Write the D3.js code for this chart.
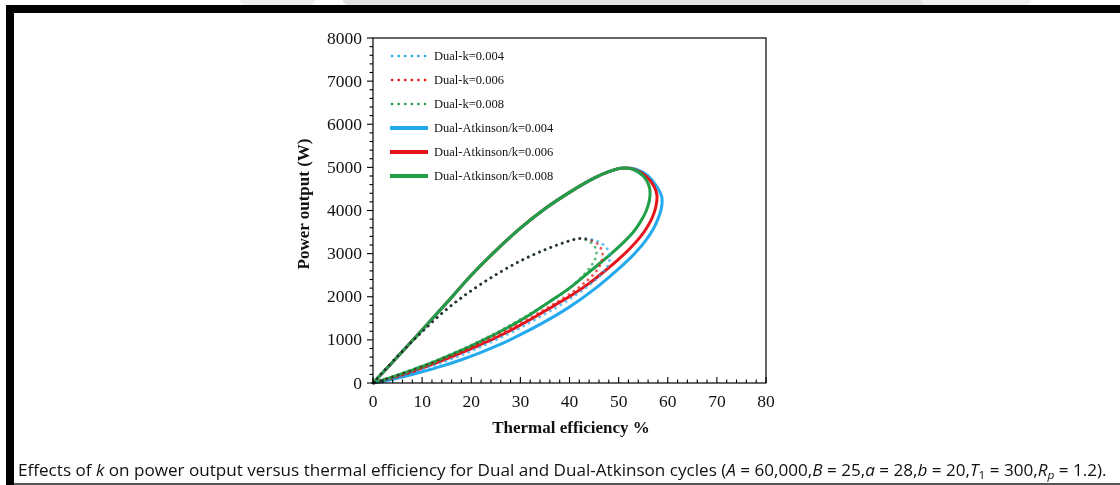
<!DOCTYPE html>
<html>
<head>
<meta charset="utf-8">
<script src="https://cdn.jsdelivr.net/npm/d3@7"></script>
<style>
  html, body { margin: 0; padding: 0; background: #fff; overflow: hidden; }
  svg { display: block; }
</style>
</head>
<body>
<svg id="chart" width="1120" height="485"></svg>
<script>
// ---- Dual cycle (dotted): efficiency (%) and power (W) along each loop ----
const effDual004 = [0, 5, 10, 15, 20, 25, 30, 35, 39, 42, 44.5, 46.5, 47.8, 48.2, 47.9, 47, 45.6, 43.5, 40.5, 37, 33, 29, 25, 21, 17, 13, 9, 5, 2, 0];
const powDual004 = [0, 620, 1190, 1710, 2140, 2510, 2830, 3090, 3260, 3350, 3330, 3240, 3090, 2920, 2750, 2590, 2420, 2220, 1980, 1730, 1470, 1220, 1000, 790, 600, 430, 280, 140, 50, 0];

const effDual006 = [0, 5, 10, 15, 20, 25, 30, 35, 39, 42, 44, 45.8, 46.6, 46.7, 46.2, 45.2, 43.7, 41.5, 38.5, 35, 31, 27, 23, 19, 15, 11, 7, 3.5, 0];
const powDual006 = [0, 620, 1190, 1710, 2140, 2510, 2830, 3090, 3260, 3350, 3320, 3220, 3060, 2900, 2730, 2560, 2390, 2180, 1950, 1710, 1450, 1210, 990, 780, 590, 410, 250, 120, 0];

const effDual008 = [0, 5, 10, 15, 20, 25, 30, 35, 39, 42, 43.5, 45, 45.5, 45.2, 44.3, 43, 41, 38, 34.5, 30.5, 26.5, 22.5, 18.5, 14.5, 10.5, 6.5, 3, 0];
const powDual008 = [0, 620, 1190, 1710, 2140, 2510, 2830, 3090, 3260, 3350, 3310, 3190, 3030, 2870, 2700, 2520, 2300, 2030, 1780, 1510, 1250, 1020, 800, 600, 420, 250, 110, 0];

// ---- Dual-Atkinson cycle (solid) ----
const effAtk004 = [0, 5, 10, 15, 20, 25, 30, 35, 40, 45, 48, 50.5, 53.5, 56, 57.8, 58.8, 58.7, 58, 57, 55.5, 53.5, 51, 48, 45, 42, 38, 34, 30, 26, 22, 18, 14, 10, 6, 3, 0];
const powAtk004 = [0, 610, 1230, 1860, 2500, 3070, 3590, 4040, 4420, 4750, 4900, 4980, 4960, 4800, 4550, 4300, 4050, 3800, 3560, 3300, 3030, 2750, 2450, 2170, 1920, 1620, 1360, 1120, 900, 710, 540, 390, 260, 140, 60, 0];

const effAtk006 = [0, 5, 10, 15, 20, 25, 30, 35, 40, 45, 48, 50.5, 53, 55.5, 57.2, 57.8, 57.6, 56.9, 55.8, 54.3, 52.3, 49.8, 47, 44, 40.5, 36.5, 32.5, 28.5, 24.5, 20.5, 16.5, 12.5, 8.5, 4.5, 0];
const powAtk006 = [0, 610, 1230, 1860, 2500, 3070, 3590, 4040, 4420, 4750, 4900, 4980, 4960, 4800, 4560, 4350, 4100, 3850, 3610, 3370, 3120, 2850, 2580, 2310, 2040, 1770, 1500, 1250, 1020, 820, 630, 450, 280, 135, 0];

const effAtk008 = [0, 5, 10, 15, 20, 25, 30, 35, 40, 45, 48, 50.5, 53, 55, 56.1, 56.4, 56.2, 55.5, 54.4, 53, 51, 48.5, 46, 43, 40, 36, 32, 28, 24, 20, 16, 12, 8, 4, 0];
const powAtk008 = [0, 610, 1230, 1860, 2500, 3070, 3590, 4040, 4420, 4750, 4900, 4980, 4950, 4800, 4600, 4420, 4200, 3960, 3730, 3500, 3260, 3000, 2760, 2480, 2200, 1890, 1590, 1320, 1080, 860, 660, 470, 300, 140, 0];

// ---- Axis ticks and legend text ----
const xTicks = [0, 10, 20, 30, 40, 50, 60, 70, 80];
const yTicks = [0, 1000, 2000, 3000, 4000, 5000, 6000, 7000, 8000];
const legendLabels = ["Dual-k=0.004", "Dual-k=0.006", "Dual-k=0.008",
                      "Dual-Atkinson/k=0.004", "Dual-Atkinson/k=0.006", "Dual-Atkinson/k=0.008"];

const BLUE = "#22a9ee", RED = "#e5151b", GREEN = "#1e9f48";

const series = [
  { eff: effDual004, pow: powDual004, color: BLUE,  dotted: true },
  { eff: effDual006, pow: powDual006, color: RED,   dotted: true },
  { eff: effDual008, pow: powDual008, color: GREEN, dotted: true },
  { eff: effAtk004,  pow: powAtk004,  color: BLUE,  dotted: false },
  { eff: effAtk006,  pow: powAtk006,  color: RED,   dotted: false },
  { eff: effAtk008,  pow: powAtk008,  color: GREEN, dotted: false }
];

const svg = d3.select("#chart");
const W = 1120, H = 485;
const serif = "'Liberation Serif', 'Times New Roman', serif";

svg.append("rect").attr("width", W).attr("height", H).attr("fill", "#fff");

// faint page header remnants above the frame
const hdr = svg.append("g");
hdr.append("rect").attr("x", 240).attr("y", -6).attr("width", 75).attr("height", 11).attr("rx", 5).attr("fill", "#ececec");
hdr.append("rect").attr("x", 343).attr("y", -6).attr("width", 593).attr("height", 11).attr("rx", 5).attr("fill", "#e2e2e2");
hdr.append("rect").attr("x", 921).attr("y", -6).attr("width", 110).attr("height", 11).attr("rx", 5).attr("fill", "#efefef");

// page frame: thick top and left bars, thin bottom rule
svg.append("rect").attr("x", 6).attr("y", 5).attr("width", W - 6).attr("height", 8).attr("fill", "#000");
svg.append("rect").attr("x", 6).attr("y", 5).attr("width", 8).attr("height", H - 5).attr("fill", "#000");
svg.append("rect").attr("x", 14).attr("y", 483).attr("width", W - 14).attr("height", 2).attr("fill", "#555");

// plot scales
const x = d3.scaleLinear().domain([0, 80]).range([373, 766]);
const y = d3.scaleLinear().domain([0, 8000]).range([383, 38]);

// curves
const line = d3.line()
  .x((d) => x(d[0]))
  .y((d) => y(d[1]))
  .curve(d3.curveCatmullRom.alpha(0.5));

svg.append("clipPath").attr("id", "plotclip")
  .append("rect").attr("x", 366).attr("y", 38).attr("width", 400).attr("height", 352);
const plot = svg.append("g").attr("clip-path", "url(#plotclip)");

// solid Dual-Atkinson loops first, blue under red under green
series.filter((s) => !s.dotted).forEach((s) => {
  plot.append("path")
    .datum(s.eff.map((e, i) => [e, s.pow[i]]))
    .attr("d", line)
    .attr("fill", "none")
    .attr("stroke", s.color)
    .attr("stroke-width", 3)
    .attr("stroke-linejoin", "round");
});

// dotted Dual loops on top; overlapping dots darken where loops coincide
const dots = plot.append("g").style("isolation", "isolate");
series.filter((s) => s.dotted).forEach((s) => {
  dots.append("path")
    .datum(s.eff.map((e, i) => [e, s.pow[i]]))
    .attr("d", line)
    .attr("fill", "none")
    .attr("stroke", s.color)
    .attr("stroke-opacity", 0.7)
    .attr("stroke-width", 2.8)
    .attr("stroke-linecap", "round")
    .attr("stroke-dasharray", "0.1 6")
    .style("mix-blend-mode", "multiply");
});

// axes
const axes = svg.append("g").attr("stroke", "#000").attr("fill", "none");
axes.append("rect")
  .attr("x", x(0)).attr("y", y(8000))
  .attr("width", x(80) - x(0)).attr("height", y(0) - y(8000))
  .attr("stroke-width", 1.2);

// y ticks: major every 1000, minor every 200, pointing outward
d3.range(0, 8001, 200).forEach((v) => {
  const major = v % 1000 === 0;
  axes.append("line")
    .attr("x1", x(0)).attr("x2", x(0) - (major ? 6 : 3.5))
    .attr("y1", y(v)).attr("y2", y(v))
    .attr("stroke-width", 1.1);
});
// x ticks: major every 10, minor every 2, pointing inward
d3.range(0, 81, 2).forEach((v) => {
  const major = v % 10 === 0;
  axes.append("line")
    .attr("x1", x(v)).attr("x2", x(v))
    .attr("y1", y(0)).attr("y2", y(0) - (major ? 6 : 3.5))
    .attr("stroke-width", 1.1);
});

const labels = svg.append("g").attr("font-family", serif).attr("fill", "#111");
yTicks.forEach((v) => {
  labels.append("text")
    .attr("x", 362).attr("y", y(v) + 5.5)
    .attr("text-anchor", "end")
    .attr("font-size", 17.5)
    .text(v);
});
xTicks.forEach((v) => {
  labels.append("text")
    .attr("x", x(v)).attr("y", 407)
    .attr("text-anchor", "middle")
    .attr("font-size", 17.5)
    .text(v);
});

// axis titles
labels.append("text")
  .attr("x", 571).attr("y", 433)
  .attr("text-anchor", "middle")
  .attr("font-size", 17).attr("font-weight", "bold")
  .text("Thermal efficiency %");
labels.append("text")
  .attr("transform", "translate(309,204) rotate(-90)")
  .attr("text-anchor", "middle")
  .attr("font-size", 17).attr("font-weight", "bold")
  .text("Power output (W)");

// legend
const legend = svg.append("g");
series.forEach((s, i) => {
  const ly = 56 + i * 24;
  legend.append("line")
    .attr("x1", s.dotted ? 392 : 390).attr("x2", 428)
    .attr("y1", ly).attr("y2", ly)
    .attr("stroke", s.color)
    .attr("stroke-width", s.dotted ? 2.6 : 4)
    .attr("stroke-linecap", s.dotted ? "round" : "butt")
    .attr("stroke-dasharray", s.dotted ? "0.1 6.5" : null);
  legend.append("text")
    .attr("x", 434).attr("y", ly + 4)
    .attr("font-family", serif).attr("font-size", 12.5).attr("fill", "#111")
    .text(legendLabels[i]);
});

// caption under the figure
const cap = svg.append("text")
  .attr("x", 0).attr("y", 0)
  .attr("font-family", "'Open Sans', Lato, sans-serif")
  .attr("font-size", 16.5).attr("fill", "#111");
const parts = [
  ["Effects of ", false], ["k", true],
  [" on power output versus thermal efficiency for Dual and Dual-Atkinson cycles (", false],
  ["A", true], [" = 60,000,", false], ["B", true], [" = 25,", false],
  ["a", true], [" = 28,", false], ["b", true], [" = 20,", false],
  ["T", true], ["1", "sub"], [" = 300,", false], ["R", true], ["p", "subi"], [" = 1.2).", false]
];
parts.forEach(([t, st]) => {
  const ts = cap.append("tspan").text(t);
  if (st === true) ts.attr("font-style", "italic");
  if (st === "sub" || st === "subi") {
    ts.attr("font-size", 11.5).attr("baseline-shift", "-25%");
    if (st === "subi") ts.attr("font-style", "italic");
  }
});
const natural = cap.node().getComputedTextLength();
cap.attr("transform", `translate(18,476) scale(${1089 / natural},1)`);
</script>
</body>
</html>
